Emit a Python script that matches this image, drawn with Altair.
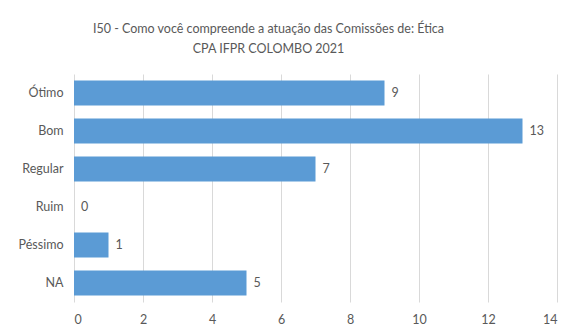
import altair as alt
import pandas as pd

categories = ["Ótimo", "Bom", "Regular", "Ruim", "Péssimo", "NA"]
values = [9, 13, 7, 0, 1, 5]
x_ticks = [0, 2, 4, 6, 8, 10, 12, 14]
title_lines = ["I50 - Como você compreende a atuação das Comissões de: Ética",
               "CPA IFPR COLOMBO 2021"]

df = pd.DataFrame({"cat": categories, "val": values})

FONT = "Lato"
GRAY = "#595959"

base = alt.Chart(df).encode(
    y=alt.Y("cat:N", sort=categories, title=None,
            scale=alt.Scale(paddingInner=0.34, paddingOuter=0.17),
            axis=alt.Axis(domain=False, ticks=False, labelPadding=11,
                          labelFont=FONT, labelFontSize=12.5, labelColor=GRAY)),
)

bars = base.mark_bar(color="#5b9bd5").encode(
    x=alt.X("val:Q", title=None,
            scale=alt.Scale(domain=[0, 14], nice=False),
            axis=alt.Axis(values=x_ticks, domain=False, ticks=False, grid=True,
                          gridColor="#d9d9d9", labelPadding=11,
                          labelFont=FONT, labelFontSize=12.5, labelColor=GRAY)),
)

labels = base.mark_text(align="left", dx=7, font=FONT, fontSize=12.5, color=GRAY).encode(
    x=alt.X("val:Q"),
    text=alt.Text("val:Q"),
)

chart = (bars + labels).properties(
    width=483, height=228,
    autosize=alt.AutoSizeParams(type="none"),
    padding={"left": 66, "top": 66, "right": 4, "bottom": 23},
    background="white",
    title=alt.TitleParams(text=title_lines, font=FONT, fontSize=12.5, fontWeight="normal",
                          color=GRAY, anchor="middle", dx=-47, offset=19, lineHeight=20),
).configure_view(stroke=None)

chart.save("out.html", embed_options={"renderer": "svg", "actions": False})
